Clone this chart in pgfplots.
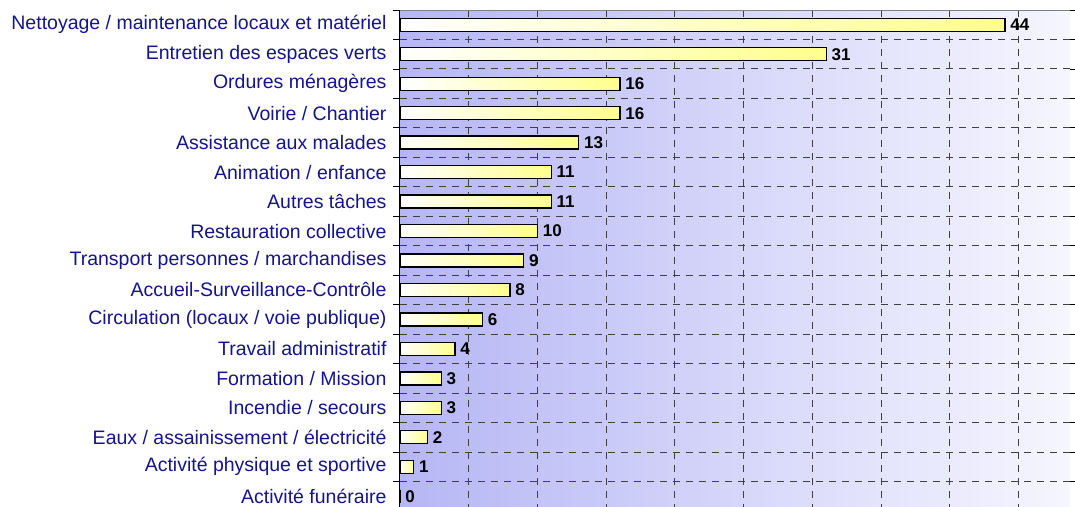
\documentclass[border=0pt]{standalone}
\usepackage{pgfplots}
\pgfplotsset{compat=1.18}
\usepackage{fontspec}
\setmainfont{Liberation Sans}
\definecolor{lab}{RGB}{20,20,140}
\definecolor{bgl}{RGB}{182,182,245}
\definecolor{bgr}{RGB}{246,246,255}
\definecolor{baryel}{RGB}{255,255,140}
\begin{document}
\begin{tikzpicture}
\begin{axis}[
  at={(0pt,0pt)}, anchor=north west,
  scale only axis,
  width=670pt, height=501pt,
  xbar, bar width=13pt, bar shift=0pt,
  xmin=0, xmax=48.73,
  ymin=-0.5, ymax=16.5,
  y dir=reverse,
  axis line style={draw=none},
  axis background/.style={left color=bgl, right color=bgr},
  xtick={5,10,...,45}, xticklabels={},
  xmajorgrids=true,
  ytick={0,...,16},
  yticklabels={
    Nettoyage / maintenance locaux et matériel,
    Entretien des espaces verts,
    Ordures ménagères,
    Voirie / Chantier,
    Assistance aux malades,
    Animation / enfance,
    Autres tâches,
    Restauration collective,
    Transport personnes / marchandises,
    Accueil-Surveillance-Contrôle,
    Circulation (locaux / voie publique),
    Travail administratif,
    Formation / Mission,
    Incendie / secours,
    Eaux / assainissement / électricité,
    Activité physique et sportive,
    Activité funéraire},
  minor ytick={-0.5,0.5,...,16.5},
  yminorgrids=true,
  major tick length=0pt,
  minor tick length=7pt,
  tick align=outside,
  minor tick style={black, line width=0.8pt},
  major grid style={black!75, line width=1pt, dash pattern=on 7pt off 6pt},
  minor grid style={black!75, line width=1pt, dash pattern=on 7pt off 6pt},
  yticklabel style={font=\fontsize{19.5}{19.5}\selectfont, text=lab, xshift=-10pt},
  nodes near coords,
  nodes near coords align={horizontal},
  every node near coord/.append style={font=\fontsize{17}{17}\selectfont\bfseries, text=black, xshift=1.5pt},
  /pgf/number format/assume math mode=true,
  every axis plot/.append style={left color=white, right color=baryel},
  every axis plot post/.append style={draw=black, line width=1.3pt},
  clip=false,
]
\addplot coordinates {(44,0)};
\addplot coordinates {(31,1)};
\addplot coordinates {(16,2)};
\addplot coordinates {(16,3)};
\addplot coordinates {(13,4)};
\addplot coordinates {(11,5)};
\addplot coordinates {(11,6)};
\addplot coordinates {(10,7)};
\addplot coordinates {(9,8)};
\addplot coordinates {(8,9)};
\addplot coordinates {(6,10)};
\addplot coordinates {(4,11)};
\addplot coordinates {(3,12)};
\addplot coordinates {(3,13)};
\addplot coordinates {(2,14)};
\addplot coordinates {(1,15)};
\addplot coordinates {(0,16)};
\draw[black, line width=1pt] (rel axis cs:0,0) -- (rel axis cs:0,1);
\draw[black!50, line width=1pt] (rel axis cs:0,1) -- (rel axis cs:1,1);
\end{axis}
\pgfresetboundingbox
\path[use as bounding box] (-400pt,10pt) rectangle (675pt,-496pt);
\end{tikzpicture}
\end{document}
